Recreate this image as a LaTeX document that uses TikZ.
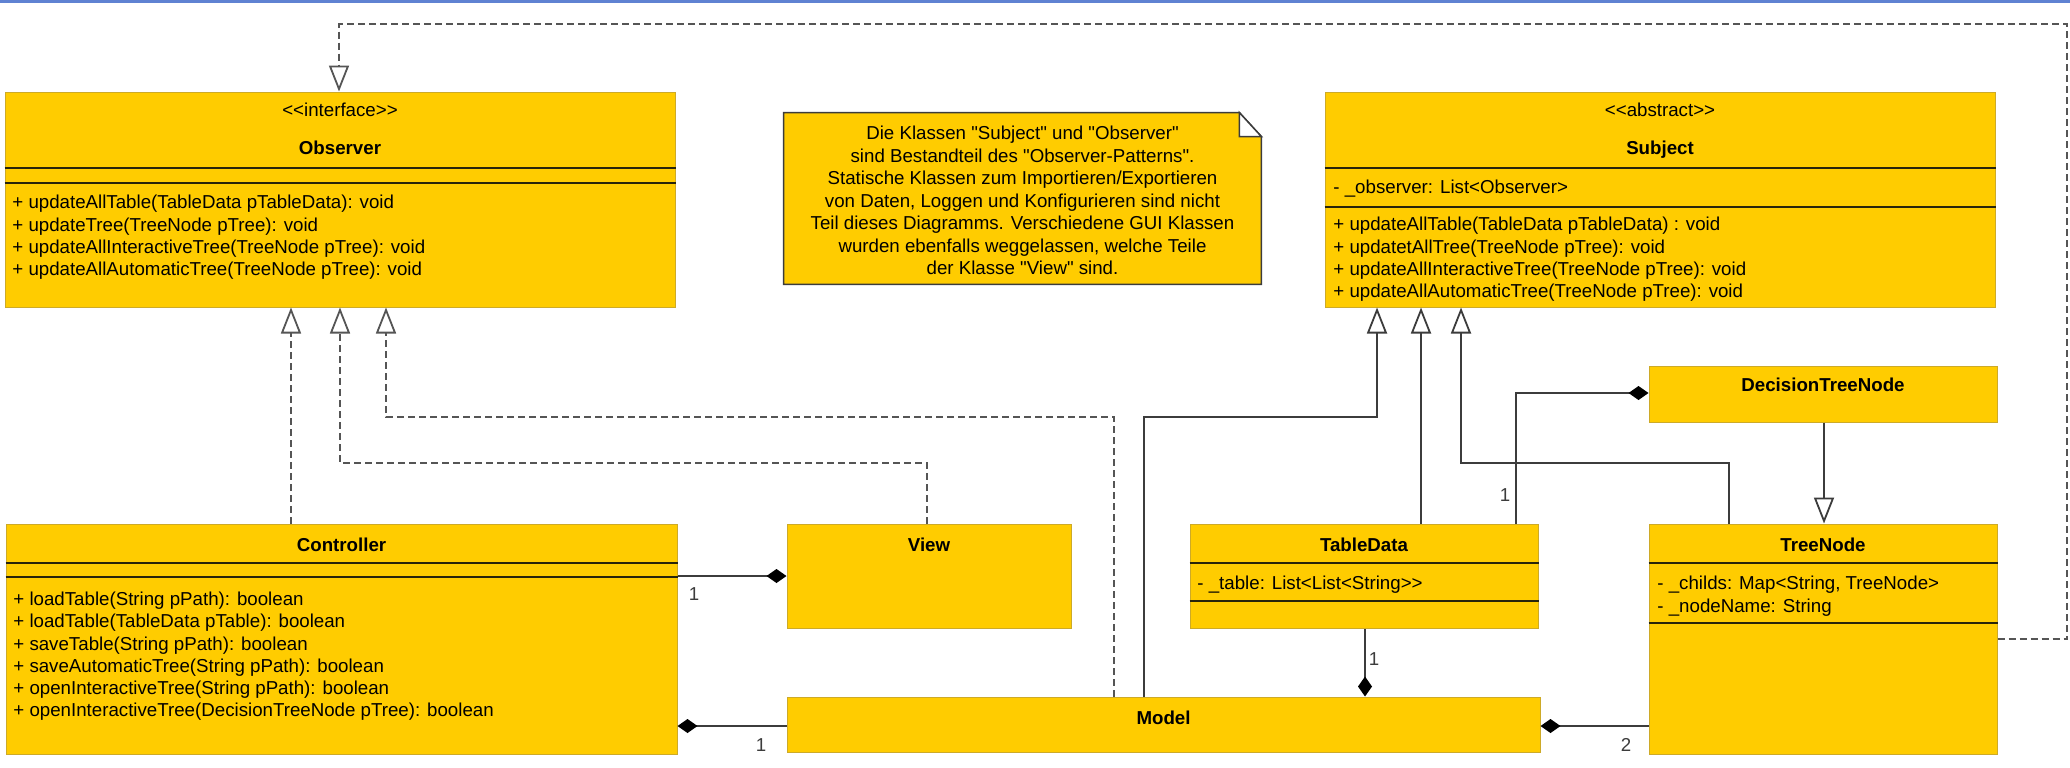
\documentclass[tikz,border=0pt]{standalone}
\usepackage{fontspec}
\setmainfont{Liberation Sans}[Ligatures=TeXOff]
\usetikzlibrary{arrows.meta,fit}
\definecolor{umlyellow}{RGB}{255,204,0}
\definecolor{umledge}{RGB}{205,170,40}
\definecolor{umlsep}{RGB}{40,36,10}
\definecolor{umlline}{RGB}{60,60,60}
\definecolor{umldash}{RGB}{85,85,85}
\definecolor{topblue}{RGB}{95,130,210}
\definecolor{notedge}{RGB}{60,60,60}
\begin{document}
\begin{tikzpicture}[x=0.5pt,y=-0.5pt,
  every node/.style={font=\fontsize{9.35}{11.2}\selectfont},
  classbox/.style={fit={#1}, inner sep=0pt, fill=umlyellow, draw=umledge, line width=0.5pt},
  txt/.style={inner sep=0pt, text height=6.7pt, text depth=0pt, anchor=west},
  ctxt/.style={inner sep=0pt, text height=6.7pt, text depth=0pt},
  title/.style={ctxt, font=\fontsize{9.35}{11.2}\selectfont\bfseries},
  mult/.style={inner sep=0pt, text=umlline, text height=6.7pt, text depth=0pt},
  sepline/.style={draw=umlsep, line width=1pt},
  gen/.style={draw=umlline, line width=0.9pt, -{Triangle[length=13pt,width=10pt,fill=white]}},
  real/.style={draw=umldash, line width=0.9pt, dash pattern=on 3.5pt off 2pt, -{Triangle[length=13pt,width=10pt,fill=white]}},
  comp/.style={draw=umlline, line width=0.9pt, {Diamond[length=10pt,width=7pt,color=black,fill=black]}-}
]
\useasboundingbox (0,0) rectangle (2070,767);
\fill[white] (0,0) rectangle (2070,767);
\fill[topblue] (0,0) rectangle (2070,2.5);

% ---------- boxes ----------
\node[classbox={(5,92) (675,307)}] (obs) {};
\node[classbox={(1325,92) (1995,307)}] (subj) {};
\node[classbox={(6,524) (677,754)}] (ctrl) {};
\node[classbox={(787,524) (1071,628)}] (view) {};
\node[classbox={(1190,524) (1538,628)}] (table) {};
\node[classbox={(1649,524) (1997,754)}] (tree) {};
\node[classbox={(1649,366) (1997,422)}] (dtn) {};
\node[classbox={(787,697) (1540,752)}] (model) {};

% ---------- note ----------
\node[fit={(784,113) (1261,284)}, inner sep=0pt] (note) {};
\draw[fill=umlyellow, draw=notedge, line width=0.75pt]
  (note.north west) -- ([xshift=-11pt]note.north east) -- ([yshift=-12pt]note.north east)
  -- (note.south east) -- (note.south west) -- cycle;
\draw[fill=white, draw=notedge, line width=0.75pt]
  ([xshift=-11pt]note.north east) -- ([xshift=-11pt,yshift=-12pt]note.north east)
  -- ([yshift=-12pt]note.north east) -- cycle;
\node[ctxt] (n1) at (1022.5,133) {Die Klassen "Subject" und "Observer"};
\node[ctxt] (n2) at (1022.5,155.5) {sind Bestandteil des "Observer-Patterns".};
\node[ctxt] (n3) at (1022.5,178) {Statische Klassen zum Importieren/Exportieren};
\node[ctxt] (n4) at (1022.5,200.5) {von Daten, Loggen und Konfigurieren sind nicht};
\node[ctxt] (n5) at (1022.5,223) {Teil dieses Diagramms. Verschiedene GUI Klassen};
\node[ctxt] (n6) at (1022.5,245.5) {wurden ebenfalls weggelassen, welche Teile};
\node[ctxt] (n7) at (1022.5,268) {der Klasse "View" sind.};

% ---------- Observer ----------
\node[ctxt] (obsst) at (340,110) {<<interface>>};
\node[title] (obst) at (340,148) {Observer};
\draw[sepline] (obs.west |- 0,168) -- (obs.east |- 0,168);
\draw[sepline] (obs.west |- 0,183) -- (obs.east |- 0,183);
\node[txt] (obsm1) at (12,202) {+ updateAllTable(TableData pTableData): void};
\node[txt] (obsm2) at (12,224.3) {+ updateTree(TreeNode pTree): void};
\node[txt] (obsm3) at (12,246.6) {+ updateAllInteractiveTree(TreeNode pTree): void};
\node[txt] (obsm4) at (12,268.9) {+ updateAllAutomaticTree(TreeNode pTree): void};

% ---------- Subject ----------
\node[ctxt] (subst) at (1660,110) {<<abstract>>};
\node[title] (subt) at (1660,148) {Subject};
\draw[sepline] (subj.west |- 0,168) -- (subj.east |- 0,168);
\node[txt] (suba1) at (1333,187) {- \_observer: List<Observer>};
\draw[sepline] (subj.west |- 0,207) -- (subj.east |- 0,207);
\node[txt] (subm1) at (1333,224) {+ updateAllTable(TableData pTableData) : void};
\node[txt] (subm2) at (1333,246.3) {+ updatetAllTree(TreeNode pTree): void};
\node[txt] (subm3) at (1333,268.6) {+ updateAllInteractiveTree(TreeNode pTree): void};
\node[txt] (subm4) at (1333,290.9) {+ updateAllAutomaticTree(TreeNode pTree): void};

% ---------- Controller ----------
\node[title] (ctrlt) at (341.5,545) {Controller};
\draw[sepline] (ctrl.west |- 0,563) -- (ctrl.east |- 0,563);
\draw[sepline] (ctrl.west |- 0,577) -- (ctrl.east |- 0,577);
\node[txt] (ctrlm1) at (13,599) {+ loadTable(String pPath): boolean};
\node[txt] (ctrlm2) at (13,621.2) {+ loadTable(TableData pTable): boolean};
\node[txt] (ctrlm3) at (13,643.4) {+ saveTable(String pPath): boolean};
\node[txt] (ctrlm4) at (13,665.6) {+ saveAutomaticTree(String pPath): boolean};
\node[txt] (ctrlm5) at (13,687.8) {+ openInteractiveTree(String pPath): boolean};
\node[txt] (ctrlm6) at (13,710) {+ openInteractiveTree(DecisionTreeNode pTree): boolean};

% ---------- View, TableData, TreeNode, DTN, Model ----------
\node[title] (viewt) at (929,545) {View};
\node[title] (tablet) at (1364,545) {TableData};
\draw[sepline] (table.west |- 0,563) -- (table.east |- 0,563);
\node[txt] (tablea1) at (1197,583) {- \_table: List<List<String>>};
\draw[sepline] (table.west |- 0,601) -- (table.east |- 0,601);
\node[title] (treet) at (1823,545) {TreeNode};
\draw[sepline] (tree.west |- 0,563) -- (tree.east |- 0,563);
\node[txt] (treea1) at (1657,583) {- \_childs: Map<String, TreeNode>};
\node[txt] (treea2) at (1657,605.5) {- \_nodeName: String};
\draw[sepline] (tree.west |- 0,623) -- (tree.east |- 0,623);
\node[title] (dtnt) at (1823,385) {DecisionTreeNode};
\node[title] (modelt) at (1163.5,718) {Model};

% ---------- connectors ----------
\draw[real] (291,0 |- ctrl.north) -- (291,0 |- obs.south);
\draw[real] (927,0 |- view.north) -- (927,463) -- (340,463) -- (340,0 |- obs.south);
\draw[real] (1114,0 |- model.north) -- (1114,417) -- (386,417) -- (386,0 |- obs.south);
\draw[real] (tree.east |- 0,639) -- (2067,639) -- (2067,24) -- (339,24) -- (339,0 |- obs.north);

\draw[gen] (1144,0 |- model.north) -- (1144,417) -- (1377,417) -- (1377,0 |- subj.south);
\draw[gen] (1421,0 |- table.north) -- (1421,0 |- subj.south);
\draw[gen] (1729,0 |- tree.north) -- (1729,463) -- (1461,463) -- (1461,0 |- subj.south);
\draw[gen] (1824,0 |- dtn.south) -- (1824,0 |- tree.north);

\draw[comp] (dtn.west |- 0,393) -- (1516,393) -- (1516,0 |- table.north);
\draw[comp] (view.west |- 0,576) -- (ctrl.east |- 0,576);
\draw[comp] (ctrl.east |- 0,726) -- (model.west |- 0,726);
\draw[comp] (1365,0 |- model.north) -- (1365,0 |- table.south);
\draw[comp] (model.east |- 0,726) -- (tree.west |- 0,726);

\node[mult] (m1) at (1505,495) {1};
\node[mult] (m2) at (694,594) {1};
\node[mult] (m3) at (761,745) {1};
\node[mult] (m4) at (1374,659) {1};
\node[mult] (m5) at (1626,745) {2};
\end{tikzpicture}
\end{document}
